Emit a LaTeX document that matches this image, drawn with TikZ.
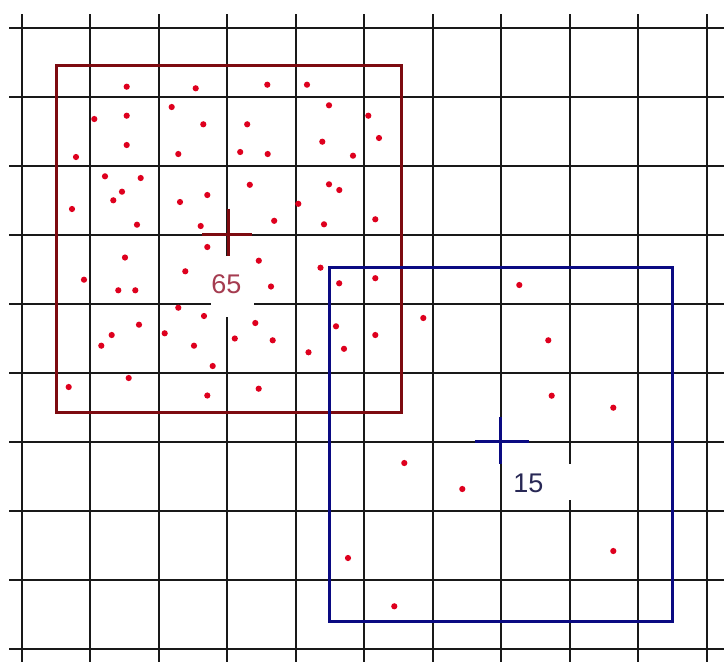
\documentclass[tikz,border=0pt]{standalone}
\usepackage{fontspec}
\setmainfont{Liberation Sans}
\begin{document}
\begin{tikzpicture}[x=1pt,y=-1pt,
  gridline/.style={line width=1.7pt, color=black!90},
  redframe/.style={line width=3pt, color=framered, line join=miter},
  blueframe/.style={line width=3pt, color=frameblue, line join=miter},
  redcross/.style={line width=2.8pt, color=framered},
  bluecross/.style={line width=2.8pt, color=frameblue},
  dot/.style={fill=dotred},
  labelbg/.style={fill=white, draw=none},
  redlabel/.style={text=labelred, font=\fontsize{27}{27}\selectfont, inner sep=0pt},
  bluelabel/.style={text=labelblue, font=\fontsize{27}{27}\selectfont, inner sep=0pt}]
\definecolor{framered}{RGB}{125,10,16}
\definecolor{frameblue}{RGB}{10,10,130}
\definecolor{dotred}{RGB}{222,0,30}
\definecolor{labelred}{RGB}{165,60,80}
\definecolor{labelblue}{RGB}{40,40,85}
\useasboundingbox (0,0) rectangle (724,662);
\fill[white] (0,0) rectangle (724,662);
% grid
\foreach \k in {0,...,10} \draw[gridline] ({21.7+68.5*\k},14) -- ({21.7+68.5*\k},662);
\foreach \k in {0,...,9} \draw[gridline] (9,{28.3+69*\k}) -- (724,{28.3+69*\k});
% frames
\draw[redframe] (56.7,65.7) rectangle (401,412.7);
\draw[blueframe] (329.3,267.3) rectangle (672.7,621.7);
% crosses
\coordinate (rc) at (228.3,234.5);
\coordinate (bc) at (500.8,441.8);
\draw[redcross] ([xshift=-26pt]rc) -- ([xshift=24pt]rc);
\draw[redcross] ([yshift=26pt]rc) -- ([yshift=-22pt]rc);
\draw[bluecross] ([xshift=-26pt]bc) -- ([xshift=28pt]bc);
\draw[bluecross] ([yshift=25pt]bc) -- ([yshift=-22pt]bc);
% label backgrounds
\fill[labelbg] (210.7,256) rectangle (254,316.5);
\fill[labelbg] (505,463.5) rectangle (574,499.5);
\node[redlabel] (l65) at (226.4,284.5) {65};
\node[bluelabel] (l15) at (528.5,483.5) {15};
% dots
\foreach \x/\y in {
126.7/86.7, 195.7/88.3, 267.3/84.7, 307/84.7, 171.7/107, 329/105.3,
94.3/119, 126.7/115.7, 203.3/124.3, 247.2/124.3, 368.3/115.7,
126.7/145, 379/138, 76/157, 178.3/154, 240.2/152, 267.7/154, 322.3/141.7, 353/155.7,
105/176.3, 140.7/178, 122/191.7, 113.3/200.3, 72/209, 180/202, 207.3/195, 249.8/184.8,
329/184.3, 339.3/190, 298.3/203.8, 137/224.7, 200.7/226, 274.2/220.8, 324/224.3, 375.3/219.3,
207.3/247, 125/257.5, 258.8/260.7, 320.5/267.7, 84/279.7, 185.3/271.3, 118.3/290.3, 135.3/290.3,
271/286.5, 339.2/283.3, 375.3/278.2, 178.3/307.7, 204/316, 255.3/323, 139/324.7, 111.7/335,
164.7/333.3, 336/326.3, 375.3/335, 101.3/345.7, 194/345.7, 234.8/338.5, 272.7/340.3,
308.5/352.3, 344/348.8, 423.3/318, 212.7/366, 128.7/378, 68.7/387, 207.3/395.5, 258.7/388.7,
519.3/285, 548.3/340.3, 551.7/395.7, 613.3/407.7, 404.3/463, 462.3/489, 348/558, 394.3/606.3,
613.3/551}
  \fill[dot] (\x,\y) circle[radius=3.1pt];
\end{tikzpicture}
\end{document}
